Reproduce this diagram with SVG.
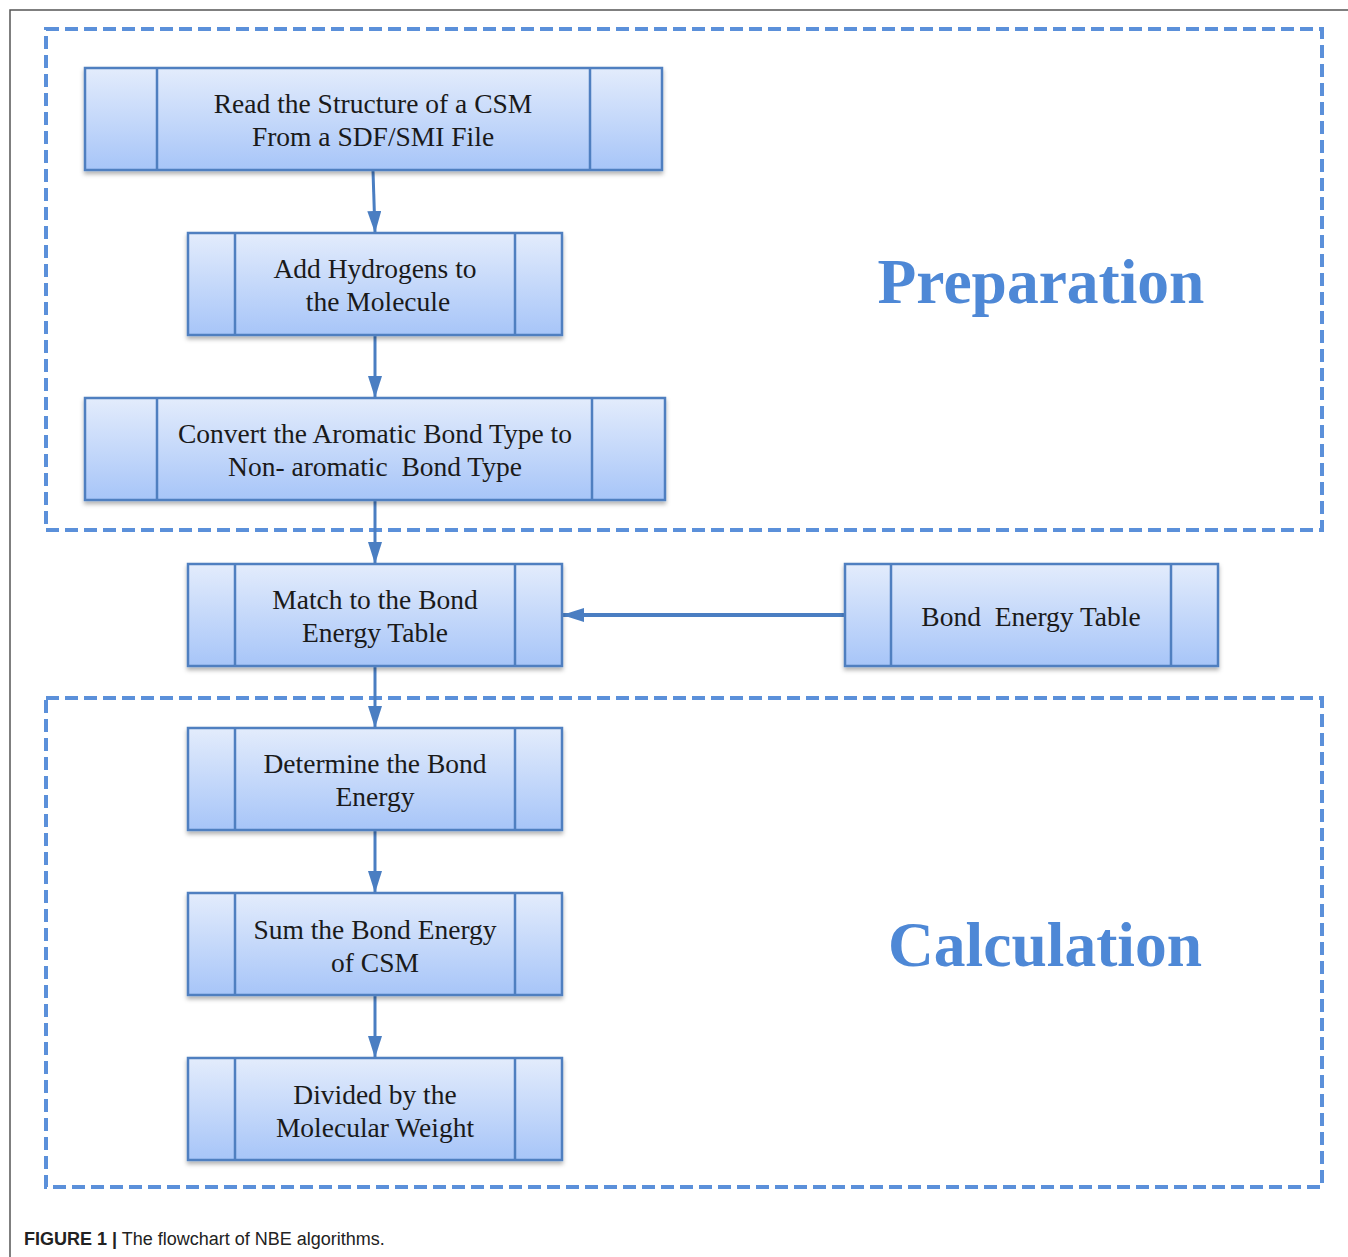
<svg xmlns="http://www.w3.org/2000/svg" width="1348" height="1257" viewBox="0 0 1348 1257">
<style>
.box{fill:url(#g);stroke:#4F7FC0;stroke-width:2.5;filter:url(#sh)}
.div{stroke:#4F7FC0;stroke-width:2.5}
.t{font-family:"Liberation Serif","Times New Roman",serif;font-size:27.5px;fill:#1a1a1a;text-anchor:middle}
.big{font-family:"Liberation Serif","Times New Roman",serif;font-size:63.5px;font-weight:bold;fill:#4E88D6;text-anchor:middle}
.frame{fill:none;stroke:#5B90DA;stroke-width:4;stroke-dasharray:13 6}
.conn{stroke:#4A7EC2;stroke-width:3;fill:none;marker-end:url(#ah)}
</style>
<defs>
<linearGradient id="g" x1="0" y1="0" x2="0" y2="1">
<stop offset="0" stop-color="#E3ECFC"/>
<stop offset="1" stop-color="#A7C5F8"/>
</linearGradient>
<filter id="sh" x="-5%" y="-5%" width="110%" height="120%">
<feDropShadow dx="0" dy="3" stdDeviation="2" flood-color="#000" flood-opacity="0.3"/>
</filter>
<marker id="ah" markerWidth="22" markerHeight="14" refX="21" refY="7" orient="auto" markerUnits="userSpaceOnUse">
<path d="M0,0 L22,7 L0,14 Z" fill="#4A7EC2"/>
</marker>
</defs>
<rect width="1348" height="1257" fill="#fff"/>
<path d="M10,1257 V10 H1348" fill="none" stroke="#555" stroke-width="1.5"/>
<rect class="frame" x="46" y="29" width="1276" height="501"/>
<rect class="frame" x="46" y="698" width="1276" height="489"/>
<text class="big" x="1041" y="303">Preparation</text>
<text class="big" x="1045" y="966">Calculation</text>
<g id="connectors">
<path class="conn" d="M373,171 L375,232"/>
<path class="conn" d="M375,336 L375,397"/>
<path class="conn" d="M375,501 L375,563"/>
<path class="conn" d="M375,667 L375,727"/>
<path class="conn" d="M375,831 L375,892"/>
<path class="conn" d="M375,996 L375,1057"/>
<path class="conn" d="M845,615 L563,615" style="stroke-width:4"/>
</g>
<g id="n1">
<rect class="box" x="85" y="68" width="577" height="102"/>
<line class="div" x1="157" y1="68" x2="157" y2="170"/><line class="div" x1="590" y1="68" x2="590" y2="170"/>
<text class="t" x="373" y="113">Read the Structure of a CSM</text>
<text class="t" x="373" y="146">From a SDF/SMI File</text>
</g>
<g id="n2">
<rect class="box" x="188" y="233" width="374" height="102"/>
<line class="div" x1="235" y1="233" x2="235" y2="335"/><line class="div" x1="515" y1="233" x2="515" y2="335"/>
<text class="t" x="375" y="278">Add Hydrogens to</text>
<text class="t" x="378" y="311">the Molecule</text>
</g>
<g id="n3">
<rect class="box" x="85" y="398" width="580" height="102"/>
<line class="div" x1="157" y1="398" x2="157" y2="500"/><line class="div" x1="592" y1="398" x2="592" y2="500"/>
<text class="t" x="375" y="443">Convert the Aromatic Bond Type to</text>
<text class="t" x="375" y="476" xml:space="preserve">Non- aromatic  Bond Type</text>
</g>
<g id="n4">
<rect class="box" x="188" y="564" width="374" height="102"/>
<line class="div" x1="235" y1="564" x2="235" y2="666"/><line class="div" x1="515" y1="564" x2="515" y2="666"/>
<text class="t" x="375" y="609">Match to the Bond</text>
<text class="t" x="375" y="642">Energy Table</text>
</g>
<g id="n5">
<rect class="box" x="845" y="564" width="373" height="102"/>
<line class="div" x1="891" y1="564" x2="891" y2="666"/><line class="div" x1="1171" y1="564" x2="1171" y2="666"/>
<text class="t" x="1031" y="626" xml:space="preserve">Bond  Energy Table</text>
</g>
<g id="n6">
<rect class="box" x="188" y="728" width="374" height="102"/>
<line class="div" x1="235" y1="728" x2="235" y2="830"/><line class="div" x1="515" y1="728" x2="515" y2="830"/>
<text class="t" x="375" y="773">Determine the Bond</text>
<text class="t" x="375" y="806">Energy</text>
</g>
<g id="n7">
<rect class="box" x="188" y="893" width="374" height="102"/>
<line class="div" x1="235" y1="893" x2="235" y2="995"/><line class="div" x1="515" y1="893" x2="515" y2="995"/>
<text class="t" x="375" y="939">Sum the Bond Energy</text>
<text class="t" x="375" y="972">of CSM</text>
</g>
<g id="n8">
<rect class="box" x="188" y="1058" width="374" height="102"/>
<line class="div" x1="235" y1="1058" x2="235" y2="1160"/><line class="div" x1="515" y1="1058" x2="515" y2="1160"/>
<text class="t" x="375" y="1104">Divided by the</text>
<text class="t" x="375" y="1137">Molecular Weight</text>
</g>
<text x="24" y="1245" font-family="Liberation Sans, Arial, sans-serif" font-size="18" fill="#222"><tspan font-weight="bold">FIGURE 1 |</tspan> The flowchart of NBE algorithms.</text>
</svg>
